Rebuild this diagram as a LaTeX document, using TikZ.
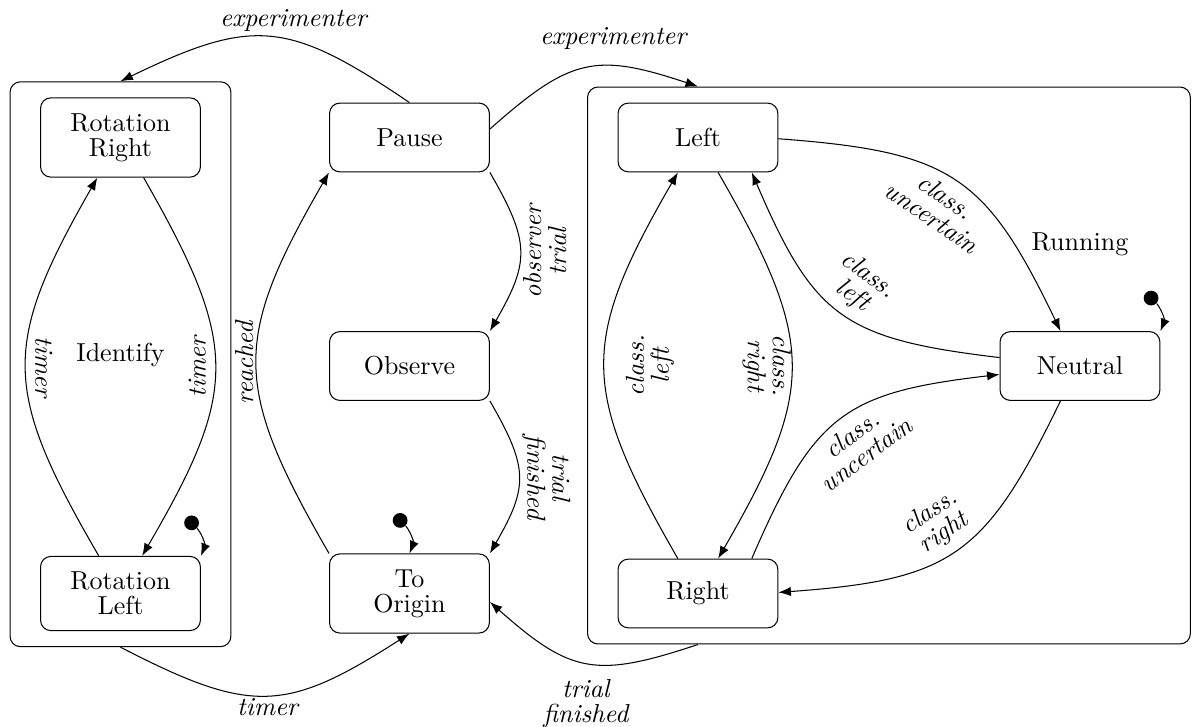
\documentclass[tikz,border=0pt]{standalone}
\usepackage{tikz}
\usetikzlibrary{fit}
\usetikzlibrary{calc}
\usetikzlibrary{arrows.meta}
\linespread{0.8}

\begin{document}
\begin{tikzpicture}[
        stbox/.style={draw,rounded corners,align=center,minimum width=2.16cm,minimum height=0.93cm,inner sep=6pt},
        superbox/.style={draw,rounded corners,inner xsep=0.405cm,inner ysep=0.21cm},
        trans/.style={-Latex,looseness=1.3},
        lbl/.style={font=\itshape,align=center},
        initdot/.style={circle,fill,inner sep=0pt,minimum size=0.2cm}]
        \useasboundingbox (-1.628,-1.791) rectangle (14.48,8.02);

        % states
        \node[stbox] (rotr) at (0,6.162) {Rotation\\Right};
        \node[stbox] (rotl) at (0,0) {Rotation\\Left};
        \node[stbox] (pause) at (3.905,6.162) {Pause};
        \node[stbox] (observe) at (3.905,3.074) {Observe};
        \node[stbox] (origin) at (3.905,0) {To\\Origin};
        \node[stbox] (lft) at (7.804,6.162) {Left};
        \node[stbox] (rgt) at (7.804,0) {Right};
        \node[stbox] (neutral) at (12.966,3.074) {Neutral};

        % superstates
        \node[superbox,fit=(rotr)(rotl)] (identify) {};
        \node[superbox,fit=(lft)(rgt)(neutral)] (running) {};
        \node (identifytxt) at (0,3.223) {Identify};
        \node (runningtxt) at (12.966,4.723) {Running};

        % initial states
        \node[initdot] (rotlinit) at ($(rotl.north east)+(-0.126,0.446)$) {};
        \node[initdot] (origininit) at ($(origin.north)+(-0.126,0.446)$) {};
        \node[initdot] (neutralinit) at ($(neutral.north east)+(-0.126,0.446)$) {};
        \draw[-Latex] (rotlinit) to[bend left] (rotl.north east);
        \draw[-Latex] (origininit) to[bend left] (origin.north);
        \draw[-Latex] (neutralinit) to[bend left] (neutral.north east);

        % transitions
        \draw[trans] (pause.north) to[bend right] node[lbl,above,pos=.4]{experimenter} (identify.north);
        \draw[trans] (pause.6) to[bend left] node[lbl,above=3pt,pos=.65]{experimenter} (running.north -| lft);
        \draw[trans] (rotr) to[bend left] node[lbl,rotate=90,anchor=south]{timer} (rotl);
        \draw[trans] (rotl) to[bend left] node[lbl,rotate=-90,anchor=south]{timer} (rotr);
        \draw[trans] (identify.south) to[bend right] node[lbl,below,inner sep=1pt]{timer} (origin.south);
        \draw[trans] (origin.north west) to[bend left] node[lbl,rotate=90,anchor=south,inner sep=1pt]{reached} (pause.south west);
        \draw[trans] (pause.south east) to[bend left] node[lbl,rotate=90,anchor=north,inner sep=1pt]{observer\\trial} (observe.north east);
        \draw[trans] (observe.south east) to[bend left] node[lbl,rotate=-90,anchor=south,inner sep=1pt]{trial\\finished} (origin.north east);
        \draw[trans] (running.south -| rgt) to[bend left] node[lbl,below=3pt]{trial\\finished} (origin.-6);

        \draw[trans] (lft) to[bend left] node[lbl,rotate=-90,anchor=north,inner sep=0pt]{class.\\right} (rgt);
        \draw[trans] (rgt) to[bend left] node[lbl,rotate=90,anchor=north,inner sep=8pt]{class.\\left} (lft);
        \draw[trans] (lft) to[bend left] node[lbl,sloped,below]{class.\\uncertain} (neutral);
        \draw[trans] (neutral.174) to[bend left] node[lbl,sloped,above]{class.\\left} (lft.-33);
        \draw[trans] (rgt.33) to[bend left] node[lbl,sloped,below]{class.\\uncertain} (neutral.186);
        \draw[trans] (neutral) to[bend left] node[lbl,sloped,above]{class.\\right} (rgt);
    \end{tikzpicture}
\end{document}
